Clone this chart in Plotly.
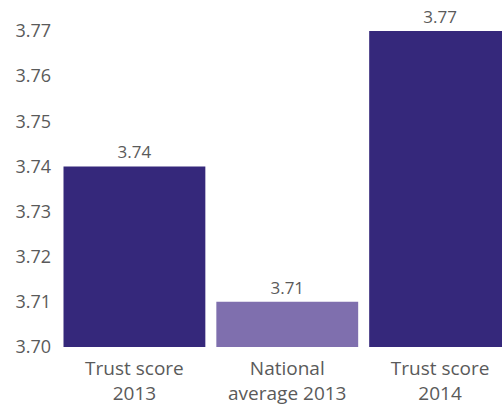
import plotly.graph_objects as go

categories = ["Trust score<br>2013", "National<br>average 2013", "Trust score<br>2014"]
scores = [3.74, 3.71, 3.77]
bar_colors = ["#35287B", "#7F6FAE", "#35287B"]
tick_values = [3.70, 3.71, 3.72, 3.73, 3.74, 3.75, 3.76, 3.77]

fig = go.Figure(
    go.Bar(
        x=[0, 1, 2],
        y=scores,
        marker=dict(color=bar_colors, line=dict(width=0)),
        text=[f"{v:.2f}" for v in scores],
        textposition="outside",
        cliponaxis=False,
        textfont=dict(size=17, color="#5a5a5a"),
    )
)

fig.update_layout(
    width=502,
    height=406,
    margin=dict(l=57.5, r=0, t=31, b=59),
    paper_bgcolor="white",
    plot_bgcolor="white",
    bargap=0.072,
    font=dict(family="Open Sans", color="#5a5a5a"),
    showlegend=False,
    uniformtext=dict(minsize=17, mode="show"),
)

fig.update_xaxes(
    range=[-0.5, 2.405],
    tickvals=[0, 1, 2],
    ticktext=categories,
    tickfont=dict(size=19, color="#5a5a5a"),
    showgrid=False,
    zeroline=False,
    showline=False,
    ticks="",
    ticklabelstandoff=8,
)

fig.update_yaxes(
    range=[3.70, 3.77],
    tickvals=tick_values,
    ticktext=[f"{v:.2f}" for v in tick_values],
    tickfont=dict(size=18, color="#5a5a5a"),
    showgrid=False,
    zeroline=False,
    showline=False,
    ticks="",
    ticklabelstandoff=6,
)

fig.write_html("out.html")
